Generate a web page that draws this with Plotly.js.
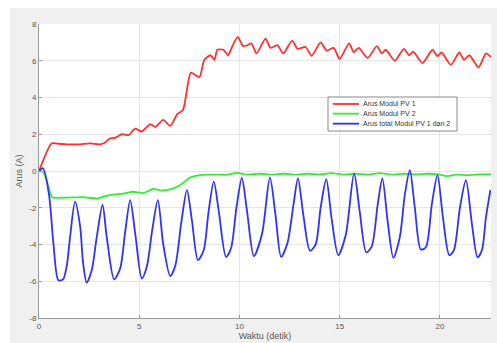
<!DOCTYPE html>
<html><head><meta charset="utf-8">
<script src="https://cdn.plot.ly/plotly-3.0.1.min.js"></script>
<style>html,body{margin:0;padding:0;background:#fff;width:497px;height:343px;overflow:hidden}
#chart{position:absolute;left:10px;top:8px;width:487px;height:335px}</style>
</head><body><div id="chart"></div>
<script>
const legendNames = ["Arus Modul PV 1","Arus Modul PV 2","Arus total Modul PV 1 dan 2"];
const xTitle = "Waktu (detik)";
const yTitle = "Arus (A)";
const xTicks = [0,5,10,15,20];
const yTicks = [-8,-6,-4,-2,0,2,4,6,8];

const tPV1 = [0,0.63,1.0,1.38,2.05,2.55,3.05,3.3,3.55,3.8,4.13,4.47,4.8,5.13,5.55,5.8,6.2,6.55,6.9,7.18,7.58,8.0,8.25,8.55,8.75,8.9,9.2,9.43,9.67,9.92,10.18,10.4,10.6,10.85,11.3,11.55,11.9,12.18,12.63,12.9,13.3,13.6,14.05,14.35,14.7,15.0,15.47,15.7,15.95,16.4,16.85,17.1,17.3,17.75,18.2,18.47,18.67,19.13,19.63,19.88,20.08,20.55,20.97,21.2,21.47,21.93,22.3,22.55];
const iPV1 = [0,1.5,1.48,1.45,1.45,1.5,1.45,1.55,1.78,1.8,2.0,1.95,2.3,2.15,2.55,2.4,2.78,2.45,3.1,3.3,5.35,5.1,6.05,6.3,6.05,6.6,6.6,6.3,6.85,7.3,6.8,6.85,6.95,6.4,7.2,6.7,6.85,6.4,7.1,6.65,6.75,6.27,7.0,6.55,6.7,6.1,6.95,6.47,6.7,6.15,6.8,6.4,6.6,6.0,6.65,6.3,6.5,5.87,6.6,6.25,6.45,5.78,6.45,6.05,6.3,5.63,6.4,6.2];

const tPV2 = [0,0.2,0.38,0.63,0.7,1.4,2.2,2.9,3.55,4.2,4.7,5.2,5.7,6.05,6.55,7.05,7.3,7.55,8.05,8.7,9.4,9.9,10.4,11,11.6,12.2,12.8,13.4,14,14.6,15.2,15.8,16.4,17,17.6,18.2,18.8,19.4,20,20.4,20.8,21.4,22,22.55];
const iPV2 = [0,-0.05,-0.5,-1.4,-1.45,-1.45,-1.42,-1.5,-1.3,-1.23,-1.13,-1.2,-0.98,-1.05,-1.0,-0.76,-0.55,-0.35,-0.22,-0.2,-0.2,-0.1,-0.2,-0.15,-0.2,-0.15,-0.2,-0.15,-0.18,-0.12,-0.2,-0.15,-0.2,-0.12,-0.2,-0.15,-0.18,-0.15,-0.2,-0.28,-0.2,-0.22,-0.18,-0.17];

const tTot = [0,0.2,0.5,0.72,0.97,1.2,1.38,1.55,1.8,2.05,2.2,2.38,2.63,2.88,3.17,3.38,3.75,4.05,4.3,4.55,4.8,5.13,5.38,5.65,5.93,6.2,6.55,6.8,7.1,7.38,7.63,7.93,8.22,8.45,8.72,8.97,9.33,9.58,9.85,10.12,10.38,10.72,11.13,11.52,11.8,12.08,12.4,12.7,12.92,13.2,13.52,13.8,14.05,14.33,14.6,14.93,15.3,15.72,16.0,16.33,16.6,16.9,17.13,17.4,17.68,18.0,18.25,18.5,18.75,19.05,19.3,19.6,19.88,20.15,20.47,20.7,21.0,21.3,21.6,21.88,22.1,22.3,22.52];
const iTot = [0,0.15,-1.3,-3.95,-5.95,-5.9,-5.2,-3.6,-1.67,-3.0,-5.0,-6.07,-5.4,-3.6,-1.85,-3.6,-5.9,-5.3,-3.3,-1.58,-3.4,-5.85,-5.2,-3.2,-1.58,-4.0,-5.72,-5.15,-2.8,-1.04,-2.7,-4.85,-4.3,-2.3,-0.58,-2.2,-4.67,-4.2,-2.0,-0.38,-2.2,-4.63,-3.4,-0.35,-2.4,-4.67,-3.9,-1.8,-0.4,-2.5,-4.34,-4.0,-2.0,-0.45,-2.6,-4.58,-3.5,-0.13,-2.2,-4.43,-4.1,-1.8,-0.4,-2.8,-4.72,-3.6,-1.3,0.05,-2.0,-4.27,-4.15,-1.8,-0.22,-2.5,-4.58,-4.3,-2.0,-0.5,-2.9,-4.7,-4.3,-2.5,-1.04];

const colors = ["#ff3030","#33ee33","#3030ff"];
const fnt = "Liberation Sans, Arial, sans-serif";
const data = [
  {x:tPV1,y:iPV1,name:legendNames[0],mode:"lines",showlegend:false,line:{color:colors[0],width:1.8,shape:"spline",smoothing:0.6}},
  {x:tPV2,y:iPV2,name:legendNames[1],mode:"lines",showlegend:false,line:{color:colors[1],width:1.8,shape:"spline",smoothing:0.6}},
  {x:tTot,y:iTot,name:legendNames[2],mode:"lines",showlegend:false,line:{color:colors[2],width:1.8,shape:"spline",smoothing:0.8}}
];

// compact MATLAB-style legend box (paper coordinates)
const shapes = [{type:"rect",xref:"paper",yref:"paper",x0:0.6394,x1:0.9248,y0:0.636,y1:0.7517,
  fillcolor:"#fff",line:{color:"#888",width:1},layer:"above"}];
const annotations = [];
const rowY = [0.728,0.695,0.661];
legendNames.forEach((n,i)=>{
  shapes.push({type:"line",xref:"paper",yref:"paper",x0:0.650,x1:0.708,y0:rowY[i],y1:rowY[i],
    line:{color:colors[i],width:1.8},layer:"above"});
  annotations.push({xref:"paper",yref:"paper",x:0.7124,y:rowY[i],xanchor:"left",yanchor:"middle",
    text:n,showarrow:false,font:{family:fnt,size:7,color:"#333"}});
});

const ax = {showline:true,linecolor:"#999",linewidth:1,gridcolor:"#e6e6e6",gridwidth:1,zeroline:false,
  ticks:"inside",ticklen:3,tickcolor:"#999",tickfont:{family:fnt,size:8,color:"#555"},mirror:false};
const layout = {
  width:487,height:335,paper_bgcolor:"#f0f0f0",plot_bgcolor:"#fff",
  margin:{l:29,r:6,t:16,b:25},showlegend:false,
  xaxis:Object.assign({},ax,{range:[0,22.55],tickvals:xTicks,ticktext:xTicks.map(String),
    title:{text:xTitle,font:{family:fnt,size:9,color:"#555"},standoff:3}}),
  yaxis:Object.assign({},ax,{range:[-8,8],tickvals:yTicks,ticktext:yTicks.map(String),
    title:{text:yTitle,font:{family:fnt,size:9,color:"#555"},standoff:5}}),
  shapes:shapes,annotations:annotations,
  font:{family:fnt}
};
Plotly.newPlot("chart",data,layout,{staticPlot:true,displayModeBar:false});
</script></body></html>
